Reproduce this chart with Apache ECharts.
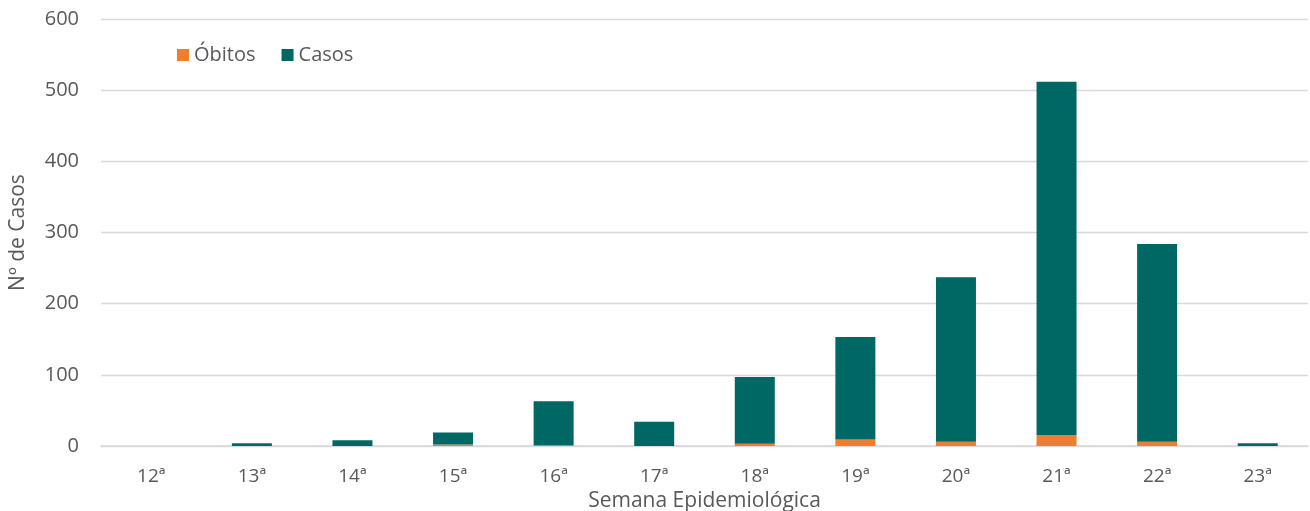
<!DOCTYPE html>
<html>
<head>
<meta charset="utf-8">
<script src="https://cdn.jsdelivr.net/npm/echarts@6/dist/echarts.min.js"></script>
<style>
  html, body { margin: 0; padding: 0; background: #fff; }
  #chart { width: 1310px; height: 511px; }
</style>
</head>
<body>
<div id="chart"></div>
<script>
// semanas epidemiológicas
const semanas = ['12ª', '13ª', '14ª', '15ª', '16ª', '17ª', '18ª', '19ª', '20ª', '21ª', '22ª', '23ª'];
// óbitos (base da barra)
const obitos = [0, 0, 0, 2, 1, 0, 3, 9, 6, 15, 6, 0];
// casos (empilhado sobre os óbitos)
const casos = [0, 4, 8, 17, 62, 34, 94, 144, 231, 497, 278, 4];

const fonte = '"Open Sans", "Noto Sans", sans-serif';
const cinza = '#595959';

const chart = echarts.init(document.getElementById('chart'));
chart.setOption({
  animation: false,
  textStyle: { fontFamily: fonte },
  grid: { left: 101, right: 2, top: 19, bottom: 65, outerBoundsMode: 'none', containLabel: false },
  legend: {
    left: 172,
    top: 40,
    itemWidth: 12,
    itemHeight: 12,
    itemGap: 26,
    itemStyle: { borderWidth: 0 },
    icon: 'rect',
    textStyle: { color: cinza, fontSize: 20, fontFamily: fonte },
    data: ['Óbitos', 'Casos']
  },
  xAxis: {
    type: 'category',
    data: semanas,
    name: 'Semana Epidemiológica',
    nameLocation: 'middle',
    nameGap: 37,
    nameTextStyle: { color: cinza, fontSize: 21 },
    axisTick: { show: false },
    axisLine: { lineStyle: { color: '#d9d9d9', width: 1.5 } },
    axisLabel: { color: cinza, fontSize: 19, margin: 21 }
  },
  yAxis: {
    type: 'value',
    min: 0,
    max: 600,
    interval: 100,
    name: 'Nº de Casos',
    nameLocation: 'middle',
    nameGap: 72,
    nameTextStyle: { color: cinza, fontSize: 21 },
    axisLine: { show: false },
    axisTick: { show: false },
    axisLabel: { color: cinza, fontSize: 20, margin: 22 },
    splitLine: { lineStyle: { color: '#d9d9d9', width: 1.3 } }
  },
  series: [
    {
      name: 'Óbitos',
      type: 'bar',
      stack: 'total',
      barWidth: 40,
      data: obitos,
      itemStyle: { color: '#ed7d31' }
    },
    {
      name: 'Casos',
      type: 'bar',
      stack: 'total',
      barWidth: 40,
      data: casos,
      itemStyle: { color: '#006864' }
    }
  ]
});
</script>
</body>
</html>
